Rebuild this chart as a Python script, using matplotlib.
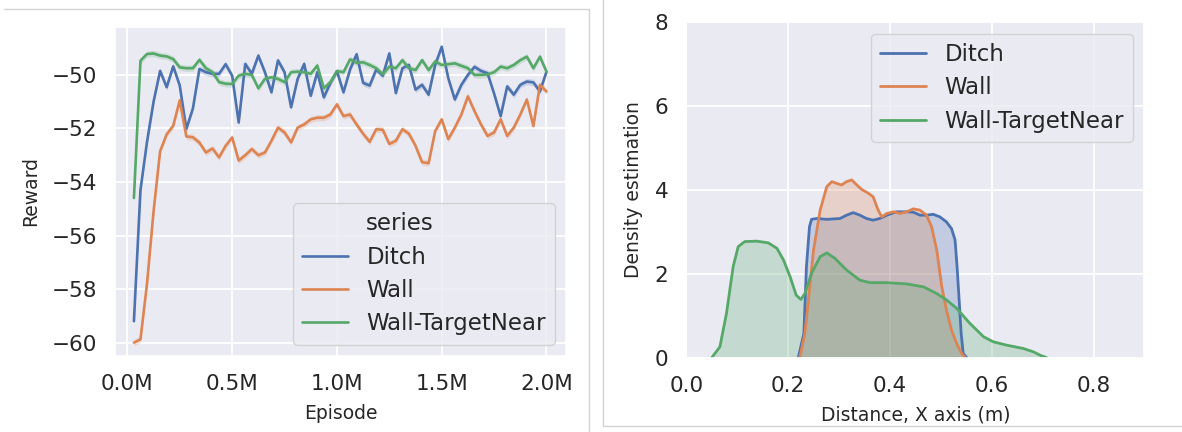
import matplotlib
import matplotlib.pyplot as plt
import numpy as np
import seaborn as sns
from matplotlib.lines import Line2D
from matplotlib.ticker import FuncFormatter

matplotlib.use("Agg", force=True)

sns.set_theme(style="darkgrid")
plt.rcParams["font.family"] = ["DejaVu Sans"]
plt.rcParams["axes.unicode_minus"] = True

BLUE, ORANGE, GREEN = "#4C72B0", "#DD8452", "#55A868"
SERIES = ["Ditch", "Wall", "Wall-TargetNear"]

# ---- left panel: reward, one evaluation every 31250 episodes ----
episodes = np.arange(1, 65) * 31250

reward_ditch = [
    -59.2, -54.3, -52.5, -51.0, -49.85, -50.46, -49.68, -50.4, -52.02, -51.26,
    -49.78, -49.9, -49.96, -49.96, -49.6, -50.03, -51.78, -49.59, -49.96, -49.28,
    -49.9, -50.65, -49.46, -49.9, -51.21, -50.15, -49.59, -50.78, -49.9, -50.84,
    -50.3, -49.86, -50.65, -49.8, -49.23, -50.3, -50.4, -49.8, -50.03, -49.2,
    -50.68, -49.75, -49.63, -50.55, -50.37, -50.74, -49.63, -48.95, -50.12, -50.92,
    -50.37, -50.0, -49.7, -49.85, -49.94, -50.7, -51.54, -50.43, -50.74, -50.37,
    -50.25, -50.28, -50.62, -49.88,
]
reward_wall = [
    -60.0, -59.88, -57.8, -55.1, -52.85, -52.22, -51.9, -50.95, -52.3, -52.33,
    -52.53, -52.9, -52.75, -53.08, -52.65, -52.34, -53.2, -53.0, -52.77, -53.0,
    -52.9, -52.46, -51.97, -52.15, -52.52, -51.97, -51.85, -51.66, -51.6, -51.6,
    -51.48, -51.1, -51.54, -51.48, -51.85, -52.2, -52.5, -52.03, -52.05, -52.58,
    -52.46, -52.03, -52.2, -52.65, -53.26, -53.3, -52.1, -51.66, -52.4, -51.97,
    -51.48, -50.8, -51.35, -51.85, -52.28, -52.15, -51.66, -52.28, -51.97, -51.48,
    -50.92, -51.91, -50.37, -50.62,
]
reward_near = [
    -54.6, -49.47, -49.22, -49.2, -49.28, -49.31, -49.41, -49.72, -49.75, -49.75,
    -49.44, -49.75, -49.9, -50.27, -50.33, -50.34, -50.03, -49.96, -50.0, -50.5,
    -50.15, -50.09, -50.15, -50.27, -49.9, -49.88, -49.9, -49.96, -49.65, -50.5,
    -50.27, -49.86, -49.9, -49.42, -49.55, -49.53, -49.63, -49.75, -49.98, -49.69,
    -49.75, -49.45, -49.75, -49.82, -49.45, -49.82, -49.5, -49.63, -49.6, -49.57,
    -49.66, -49.75, -50.0, -50.0, -49.98, -49.9, -49.69, -49.75, -49.63, -49.45,
    -49.32, -49.75, -49.32, -49.88,
]
ci_halfwidth = 0.12

# ---- right panel: density of distance along X ----
ditch_x = [0.220, 0.231, 0.236, 0.242, 0.246, 0.256, 0.276, 0.302, 0.315, 0.328,
           0.341, 0.354, 0.367, 0.380, 0.394, 0.413, 0.433, 0.446, 0.459, 0.472,
           0.485, 0.498, 0.511, 0.521, 0.528, 0.532, 0.536, 0.540, 0.544, 0.551]
ditch_d = [0.0, 0.58, 2.17, 3.12, 3.30, 3.32, 3.30, 3.32, 3.40, 3.46,
           3.40, 3.32, 3.28, 3.32, 3.40, 3.48, 3.48, 3.47, 3.40, 3.40,
           3.42, 3.36, 3.24, 3.08, 2.81, 2.17, 1.38, 0.58, 0.10, 0.0]

wall_x = [0.223, 0.233, 0.240, 0.250, 0.263, 0.276, 0.286, 0.295, 0.305, 0.315,
          0.325, 0.335, 0.345, 0.358, 0.367, 0.377, 0.384, 0.394, 0.407, 0.420,
          0.433, 0.446, 0.459, 0.472, 0.482, 0.492, 0.502, 0.511, 0.521, 0.531,
          0.541, 0.548]
wall_d = [0.0, 0.58, 1.38, 2.57, 3.52, 4.08, 4.20, 4.16, 4.12, 4.20,
          4.24, 4.12, 4.01, 3.92, 3.84, 3.52, 3.36, 3.44, 3.48, 3.44,
          3.48, 3.55, 3.52, 3.40, 3.12, 2.57, 1.69, 1.14, 0.66, 0.34,
          0.10, 0.0]

near_x = [0.050, 0.066, 0.079, 0.092, 0.102, 0.115, 0.138, 0.161, 0.178, 0.191,
          0.204, 0.216, 0.225, 0.233, 0.246, 0.263, 0.276, 0.292, 0.315, 0.341,
          0.361, 0.394, 0.433, 0.466, 0.492, 0.511, 0.531, 0.557, 0.584, 0.603,
          0.629, 0.662, 0.682, 0.695, 0.708]
near_d = [0.0, 0.26, 1.06, 2.17, 2.65, 2.77, 2.78, 2.74, 2.61, 2.33,
          1.93, 1.49, 1.39, 1.53, 2.01, 2.41, 2.50, 2.37, 2.09, 1.85,
          1.79, 1.79, 1.76, 1.69, 1.53, 1.38, 1.18, 0.82, 0.50, 0.38,
          0.30, 0.22, 0.14, 0.06, 0.0]

W, H = 1182, 432
fig = plt.figure(figsize=(W / 100, H / 100), dpi=100)
fig.patch.set_facecolor("white")

ax1 = fig.add_axes([114.8 / W, 1 - 356 / H, 451.6 / W, 329.3 / H])
ax2 = fig.add_axes([686.3 / W, 1 - 357.7 / H, 458.1 / W, 335.4 / H])

for ax in (ax1, ax2):
    ax.tick_params(axis="both", labelsize=15.5, pad=13, length=0, colors="#262626")
    ax.grid(color="white", linewidth=1.3)

legend_kw = dict(fontsize=16.5, labelspacing=0.45, facecolor="#EAEAF2",
                 edgecolor="#cccccc", framealpha=0.8)

# left: reward curves with a thin confidence band
for vals, color, name in zip(
    (reward_ditch, reward_wall, reward_near), (BLUE, ORANGE, GREEN), SERIES
):
    vals = np.asarray(vals)
    ax1.fill_between(episodes, vals - ci_halfwidth, vals + ci_halfwidth,
                     color=color, alpha=0.2, linewidth=0)
    ax1.plot(episodes, vals, color=color, linewidth=1.9, label=name)

ax1.set_xlim(-0.06e6, 2.095e6)
ax1.set_ylim(-60.5, -48.2)
ax1.set_xticks([0, 0.5e6, 1.0e6, 1.5e6, 2.0e6])
ax1.set_yticks([-60, -58, -56, -54, -52, -50])
ax1.xaxis.set_major_formatter(FuncFormatter(lambda v, pos: f"{v / 1e6:.1f}M"))
ax1.set_xlabel("Episode", fontsize=13.5, labelpad=7)
ax1.set_ylabel("Reward", fontsize=13.5, labelpad=8)

handles = [Line2D([], [], color="none")] + ax1.get_lines()
labels = ["series"] + SERIES
ax1.legend(handles, labels, loc="lower right", **legend_kw)

# right: density estimates
for xs, ds, color, name in zip(
    (ditch_x, wall_x, near_x), (ditch_d, wall_d, near_d), (BLUE, ORANGE, GREEN), SERIES
):
    ax2.fill_between(xs, 0, ds, color=color, alpha=0.25, linewidth=0)
    ax2.plot(xs, ds, color=color, linewidth=2.0, label=name)

ax2.set_xlim(0, 0.9)
ax2.set_ylim(0, 8)
ax2.set_xticks([0.0, 0.2, 0.4, 0.6, 0.8])
ax2.set_yticks([0, 2, 4, 6, 8])
ax2.set_xlabel("Distance, X axis (m)", fontsize=13.5, labelpad=7)
ax2.set_ylabel("Density estimation", fontsize=13.5, labelpad=8)
ax2.legend(loc="upper right", **legend_kw)

# thin frames of the two screenshots
frame = dict(color="#d4d4d4", linewidth=1.0, transform=fig.transFigure)
fig.add_artist(Line2D([4 / W, 589 / W], [1 - 9 / H, 1 - 9 / H], **frame))
fig.add_artist(Line2D([589 / W, 589 / W], [1 - 9 / H, 0], **frame))
fig.add_artist(Line2D([603 / W, 603 / W], [1, 1 - 426 / H], **frame))
fig.add_artist(Line2D([603 / W, 1], [1 - 426 / H, 1 - 426 / H], **frame))

fig.savefig("out.png", dpi=100)
plt.close(fig)
